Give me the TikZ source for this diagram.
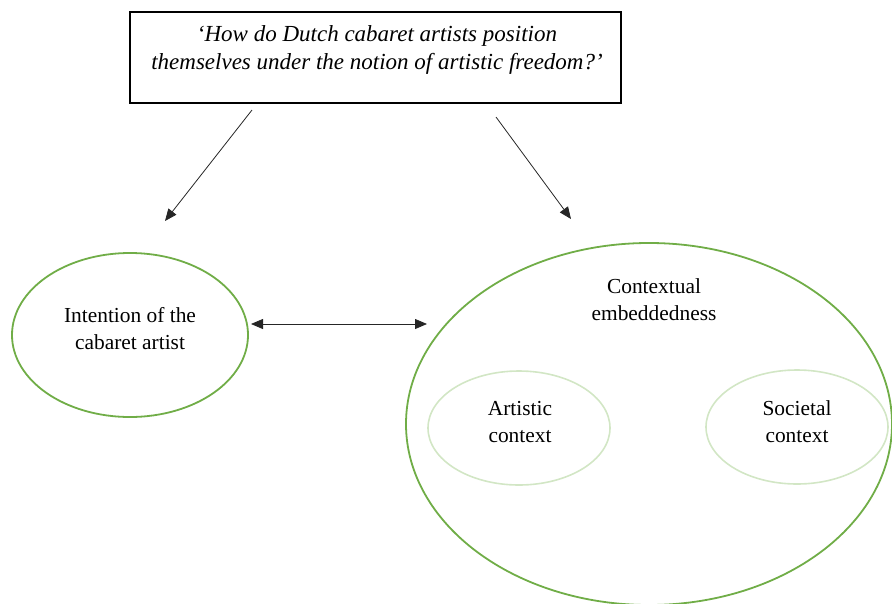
\documentclass[tikz,border=0pt]{standalone}
\usepackage{fontspec}
\setmainfont{Liberation Serif}
\usetikzlibrary{arrows.meta}
\definecolor{ogreen}{RGB}{112,173,71}
\definecolor{pgreen}{RGB}{210,230,197}
\begin{document}
\begin{tikzpicture}[x=1pt,y=-1pt,
  txt/.style={font=\fontsize{21.4}{27}\selectfont, align=center, inner sep=0pt},
  bigring/.style={draw=ogreen, line width=1.8pt},
  smallring/.style={draw=pgreen, line width=1.6pt},
  arr/.style={line width=0.8pt, draw=black!85, -{Triangle[length=12pt,width=10pt]}},
  darr/.style={line width=0.8pt, draw=black!85, {Triangle[length=12pt,width=10pt]}-{Triangle[length=12pt,width=10pt]}}]
\useasboundingbox (0,0) rectangle (892,603);
\begin{scope}
\clip (0,0) rectangle (892,603);
\draw[bigring] (130,335) ellipse [x radius=118, y radius=82];
\draw[bigring] (649,424) ellipse [x radius=243, y radius=181];
\draw[smallring] (519,428) ellipse [x radius=91, y radius=57];
\draw[smallring] (797,427) ellipse [x radius=91, y radius=57];
\end{scope}
\draw[line width=1.6pt] (130,12) rectangle (621,103);
\node[txt, font=\fontsize{23}{28}\selectfont\itshape] (q) at (377,50) {‘How do Dutch cabaret artists position\\themselves under the notion of artistic freedom?’};
\node[txt] (intent) at (130,329) {Intention of the\\cabaret artist};
\node[txt] (ctx) at (654,300) {Contextual\\embeddedness};
\node[txt] (art) at (520,422) {Artistic\\context};
\node[txt] (soc) at (797,422) {Societal\\context};
\coordinate (a1s) at (252,110);
\coordinate (a1e) at (165,221);
\coordinate (a2s) at (496,117);
\coordinate (a2e) at (571,219);
\coordinate (d1) at (251,324);
\coordinate (d2) at (427,324);
\draw[arr] (a1s) -- (a1e);
\draw[arr] (a2s) -- (a2e);
\draw[darr] (d1) -- (d2);
\end{tikzpicture}
\end{document}
